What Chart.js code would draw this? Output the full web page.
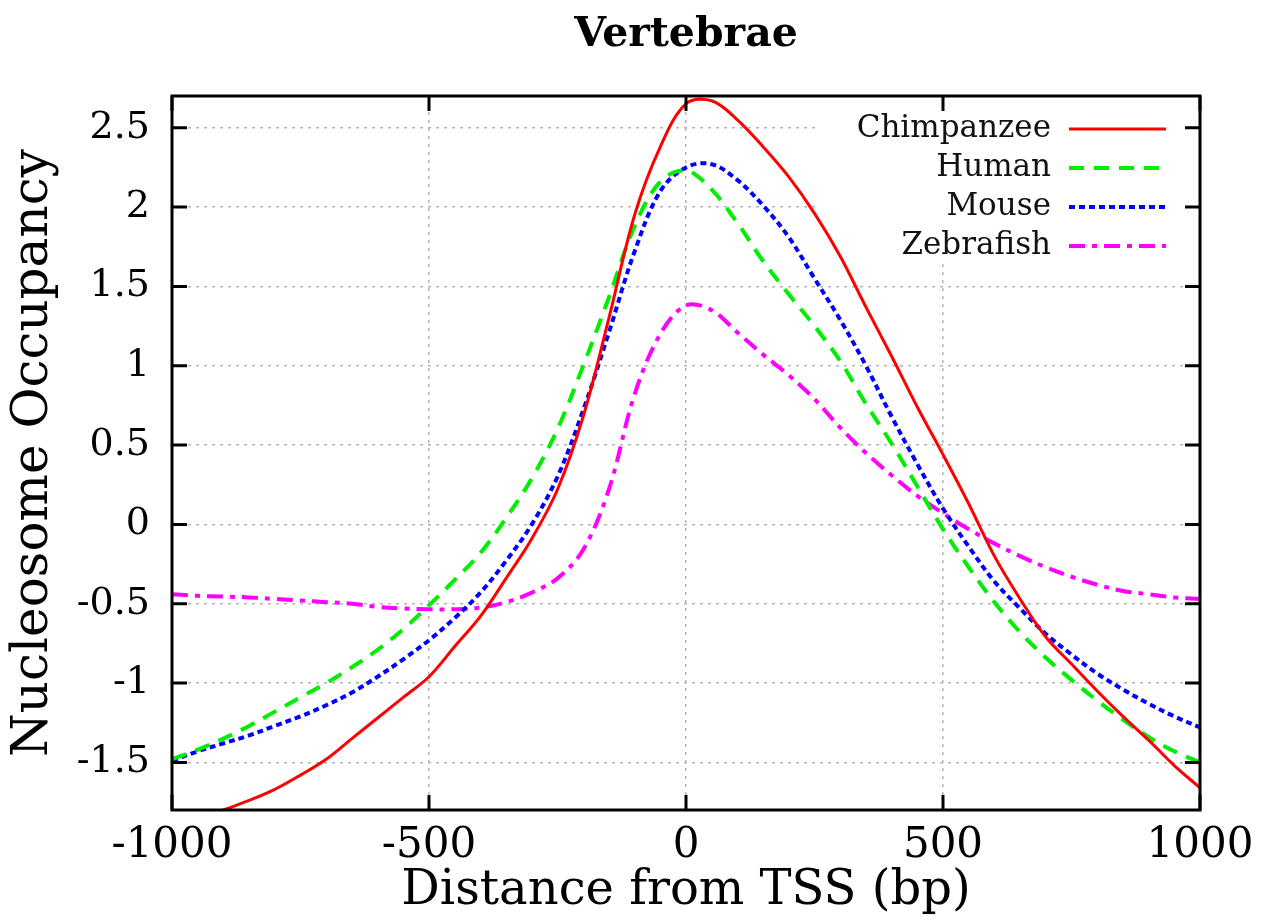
<!DOCTYPE html>
<html>
<head>
<meta charset="utf-8">
<script src="https://cdn.jsdelivr.net/npm/chart.js@4.4.1/dist/chart.umd.min.js"></script>
<style>
  html, body { margin: 0; padding: 0; background: #fff; }
  #wrap { width: 1269px; height: 921px; }
</style>
</head>
<body>
<div id="wrap"><canvas id="c" width="1269" height="921"></canvas></div>
<script>
// distance from TSS (bp)
const distances = [-1000,-950,-900,-850,-800,-750,-700,-650,-600,-550,-500,-450,-400,-350,-300,-250,-200,-150,-100,-50,
  0,50,100,150,200,250,300,350,400,450,500,550,600,650,700,750,800,850,900,950,1000];

const chimpanzee = [-1.92,-1.86,-1.80,-1.74,-1.67,-1.58,-1.48,-1.35,-1.22,-1.09,-0.96,-0.77,-0.58,-0.34,-0.09,0.22,0.68,1.30,1.95,2.38,
  2.65,2.67,2.55,2.38,2.19,1.96,1.69,1.37,1.06,0.74,0.44,0.13,-0.20,-0.47,-0.71,-0.88,-1.05,-1.21,-1.36,-1.52,-1.66];

const human = [-1.48,-1.42,-1.35,-1.27,-1.18,-1.09,-1.00,-0.90,-0.79,-0.66,-0.51,-0.35,-0.18,0.04,0.29,0.60,1.00,1.43,1.88,2.16,
  2.23,2.11,1.90,1.66,1.45,1.25,1.03,0.76,0.51,0.24,-0.03,-0.27,-0.49,-0.68,-0.84,-0.98,-1.11,-1.23,-1.34,-1.43,-1.50];

const mouse = [-1.49,-1.43,-1.38,-1.33,-1.27,-1.21,-1.14,-1.06,-0.96,-0.85,-0.73,-0.59,-0.43,-0.23,0.00,0.30,0.72,1.21,1.72,2.10,
  2.25,2.27,2.17,2.01,1.81,1.55,1.29,1.00,0.68,0.38,0.10,-0.14,-0.36,-0.53,-0.69,-0.82,-0.94,-1.04,-1.13,-1.21,-1.28];

const zebrafish = [-0.44,-0.45,-0.455,-0.46,-0.47,-0.48,-0.49,-0.50,-0.52,-0.53,-0.535,-0.535,-0.525,-0.49,-0.43,-0.34,-0.16,0.22,0.82,1.20,
  1.38,1.35,1.21,1.07,0.94,0.79,0.61,0.45,0.31,0.18,0.07,-0.03,-0.12,-0.20,-0.27,-0.33,-0.38,-0.42,-0.44,-0.46,-0.47];

const seriesNames = ['Chimpanzee', 'Human', 'Mouse', 'Zebrafish'];

const xTickValues = [-1000, -500, 0, 500, 1000];
const yTickValues = [-1.5, -1, -0.5, 0, 0.5, 1, 1.5, 2, 2.5];

const toPoints = arr => distances.map((x, i) => ({ x: x, y: arr[i] }));

// grid gets blanked behind the key, like gnuplot does
const keyBox = { x1: 815, y1: 100, x2: 1186, y2: 264 };

const frameAndTicks = {
    id: 'frameAndTicks',
    beforeDatasetsDraw(chart) {
        const ctx = chart.ctx;
        ctx.save();
        ctx.fillStyle = '#fff';
        ctx.fillRect(keyBox.x1, keyBox.y1, keyBox.x2 - keyBox.x1, keyBox.y2 - keyBox.y1);
        ctx.restore();
    },
    afterDatasetsDraw(chart) {
        const ctx = chart.ctx;
        const a = chart.chartArea;
        const xs = chart.scales.x, ys = chart.scales.y;
        const tl = 15;
        ctx.save();
        ctx.strokeStyle = '#000';
        ctx.lineWidth = 3;
        ctx.lineCap = 'butt';
        ctx.beginPath();
        xs.ticks.forEach(t => {
            const px = xs.getPixelForValue(t.value);
            ctx.moveTo(px, a.bottom); ctx.lineTo(px, a.bottom - tl);
            ctx.moveTo(px, a.top); ctx.lineTo(px, a.top + tl);
        });
        ys.ticks.forEach(t => {
            const py = ys.getPixelForValue(t.value);
            ctx.moveTo(a.left, py); ctx.lineTo(a.left + tl, py);
            ctx.moveTo(a.right, py); ctx.lineTo(a.right - tl, py);
        });
        ctx.stroke();
        ctx.strokeRect(a.left, a.top, a.right - a.left, a.bottom - a.top);

        // key
        ctx.font = '31px "DejaVu Serif"';
        ctx.textAlign = 'right';
        ctx.textBaseline = 'middle';
        const rows = [129, 168, 207, 246];
        chart.data.datasets.forEach((ds, i) => {
            ctx.fillStyle = '#111';
            ctx.fillText(ds.label, 1051, rows[i]);
            ctx.strokeStyle = ds.borderColor;
            ctx.lineWidth = ds.borderWidth;
            ctx.setLineDash(ds.borderDash || []);
            ctx.beginPath();
            ctx.moveTo(1069, rows[i]);
            ctx.lineTo(1166, rows[i]);
            ctx.stroke();
            ctx.setLineDash([]);
        });

        // title
        ctx.fillStyle = '#000';
        ctx.textAlign = 'center';
        ctx.font = 'bold 41px "DejaVu Serif"';
        ctx.fillText('Vertebrae', (a.left + a.right) / 2, 35);
        ctx.restore();
    }
};

const gridOpts = {
    color: '#b4b4b4',
    lineWidth: 1.5,
    drawTicks: false,
};

new Chart(document.getElementById('c'), {
    type: 'line',
    data: {
        datasets: [
            { label: seriesNames[0], data: toPoints(chimpanzee), borderColor: '#ff0000', borderWidth: 3 },
            { label: seriesNames[1], data: toPoints(human), borderColor: '#00ee00', borderWidth: 4, borderDash: [15, 10] },
            { label: seriesNames[2], data: toPoints(mouse), borderColor: '#0000ff', borderWidth: 4, borderDash: [6, 4] },
            { label: seriesNames[3], data: toPoints(zebrafish), borderColor: '#ff00ff', borderWidth: 4, borderDash: [16, 7, 5, 7] }
        ]
    },
    options: {
        responsive: false,
        animation: false,
        layout: { padding: { top: 96, right: 69, left: 0, bottom: 0 } },
        elements: { point: { radius: 0 }, line: { tension: 0.35, fill: false } },
        plugins: { legend: { display: false }, tooltip: { enabled: false }, title: { display: false } },
        scales: {
            x: {
                type: 'linear', min: -1000, max: 1000,
                afterFit: s => { s.height = 111; },
                afterBuildTicks: s => { s.ticks = xTickValues.map(v => ({ value: v })); },
                border: { display: false, dash: [3, 5] },
                grid: { ...gridOpts },
                ticks: { color: '#000', padding: 11, font: { family: 'DejaVu Serif', size: 42 }, callback: v => String(v) },
                title: { display: true, text: 'Distance from TSS (bp)', color: '#000', font: { family: 'DejaVu Serif', size: 48 }, padding: { top: 0, bottom: 1 } }
            },
            y: {
                min: -1.8, max: 2.7,
                afterFit: s => { s.width = 172; },
                afterBuildTicks: s => { s.ticks = yTickValues.map(v => ({ value: v })); },
                border: { display: false, dash: [3, 5] },
                grid: { ...gridOpts },
                ticks: { color: '#000', padding: 22, font: { family: 'DejaVu Serif', size: 38 }, callback: v => String(v) },
                title: { display: true, text: 'Nucleosome Occupancy', color: '#000', font: { family: 'DejaVu Serif', size: 50 }, padding: { top: 4, bottom: 0 } }
            }
        }
    },
    plugins: [frameAndTicks]
});
</script>
</body>
</html>
